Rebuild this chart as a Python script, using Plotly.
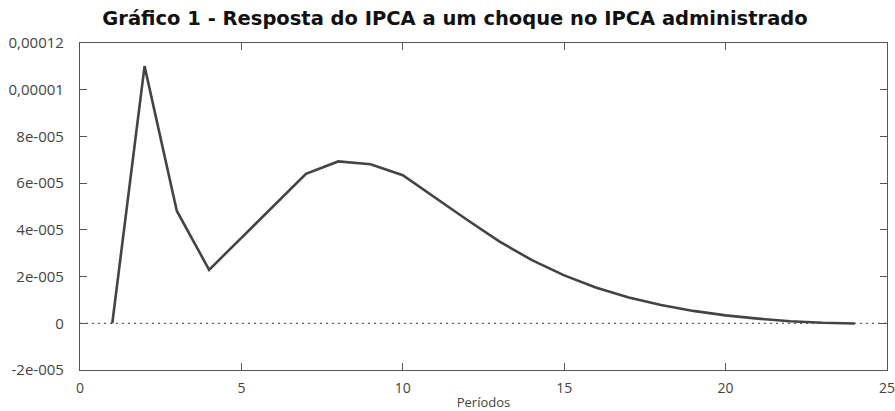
import plotly.graph_objects as go

periods = list(range(1, 25))
response = [0.0, 1.101e-4, 4.81e-5, 2.29e-5, 3.66e-5, 5.03e-5, 6.40e-5, 6.93e-5,
            6.81e-5, 6.34e-5, 5.38e-5, 4.42e-5, 3.50e-5, 2.70e-5, 2.05e-5, 1.52e-5,
            1.10e-5, 0.78e-5, 0.53e-5, 0.34e-5, 0.20e-5, 0.09e-5, 0.02e-5, -0.01e-5]

ytick_vals = [-2e-5, 0, 2e-5, 4e-5, 6e-5, 8e-5, 1e-4, 1.2e-4]
ytick_text = ["-2e-005", "0", "2e-005", "4e-005", "6e-005", "8e-005", "0,00001", "0,00012"]
xtick_vals = [0, 5, 10, 15, 20, 25]

fig = go.Figure()
fig.add_trace(go.Scatter(x=[0, 25], y=[0, 0], mode="lines",
                         line=dict(color="#333333", width=1, dash="2px,4px"),
                         hoverinfo="skip", showlegend=False))
fig.add_trace(go.Scatter(x=periods, y=response, mode="lines",
                         line=dict(color="#444444", width=2.6),
                         showlegend=False))

axis_common = dict(showline=True, linecolor="#555555", linewidth=1.2, mirror="ticks",
                   ticks="inside", ticklen=7, tickcolor="#555555", tickwidth=1,
                   showgrid=False, zeroline=False, automargin=False,
                   ticklabeloverflow="allow")

fig.update_layout(
    width=895, height=411,
    margin=dict(l=80, r=8, t=43, b=41),
    paper_bgcolor="white", plot_bgcolor="white",
    title=dict(text="<b>Gráfico 1 - Resposta do IPCA a um choque no IPCA administrado</b>",
               x=455 / 895, xref="container", xanchor="center",
               y=1 - 18 / 411, yref="container", yanchor="middle",
               font=dict(family="DejaVu Sans", size=19.5, color="#111111")),
    xaxis=dict(range=[0, 25], tickvals=xtick_vals, ticktext=[str(v) for v in xtick_vals],
               ticklabelstandoff=5,
               tickfont=dict(family="Open Sans", size=14, color="#444444"),
               title=dict(text="Períodos", standoff=2,
                          font=dict(family="Open Sans", size=13, color="#444444")),
               **axis_common),
    yaxis=dict(range=[-2e-5, 1.2e-4], tickvals=ytick_vals, ticktext=ytick_text,
               ticklabelstandoff=12,
               tickfont=dict(family="Open Sans", size=15, color="#444444"),
               **axis_common),
)

fig.write_html("out.html", config={"displayModeBar": False},
               post_script="document.body.style.margin='0';document.body.style.overflow='hidden';")
